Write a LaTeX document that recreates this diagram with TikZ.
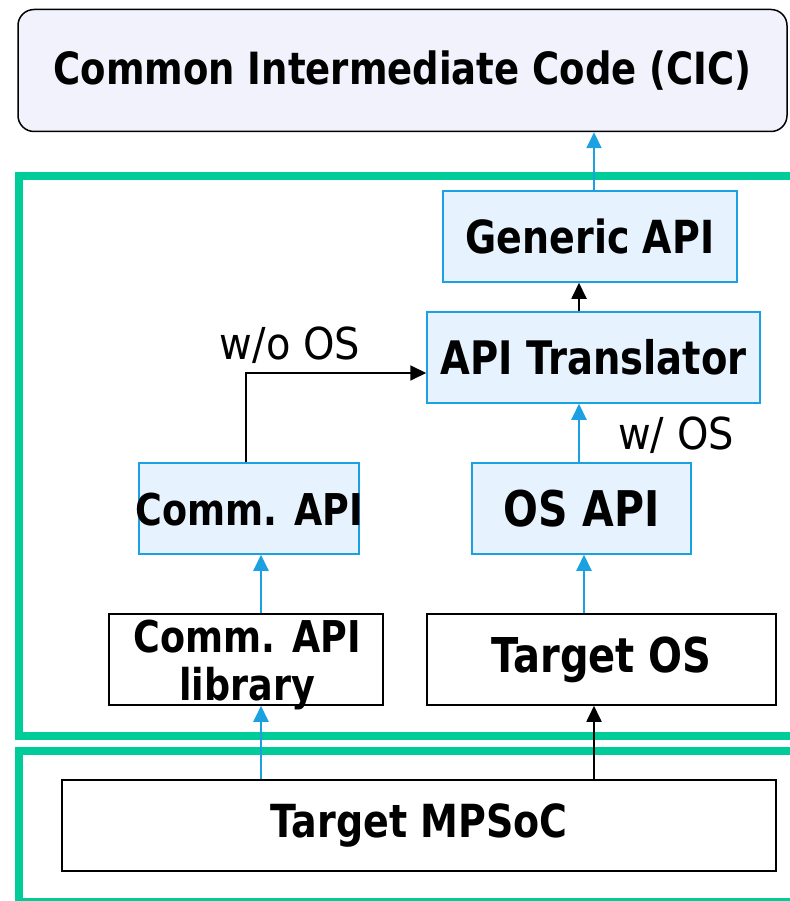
\documentclass[tikz,border=0pt]{standalone}
\usepackage{fontspec}
\usepackage{graphicx}
\setmainfont{DejaVu Sans}
\usetikzlibrary{arrows.meta,calc}
\definecolor{frameGreen}{HTML}{00CC99}
\definecolor{apiBlue}{HTML}{1BA1E2}
\definecolor{apiFill}{HTML}{E6F2FD}
\definecolor{cicFill}{HTML}{F2F2FD}
\newcommand{\bt}[2]{{\fontsize{#1}{#1}\selectfont\bfseries\scalebox{1}[1.2]{#2}}}
\tikzset{
  layer/.style={draw=frameGreen, line width=7.5pt},
  apibox/.style={draw=apiBlue, fill=apiFill, line width=1.5pt, inner sep=0pt, minimum height=91pt},
  plainbox/.style={draw=black, fill=white, line width=1.5pt, inner sep=0pt, minimum height=91pt},
  boxtext/.style={inner sep=0pt},
  bluearrow/.style={draw=apiBlue, line width=2pt, -{Triangle[length=16pt,width=15pt]}},
  blackarrow/.style={draw=black, line width=1.8pt, -{Triangle[length=16pt,width=15pt]}},
  lbl/.style={inner sep=0pt, font=\fontsize{40}{40}\selectfont}
}
\begin{document}
\begin{tikzpicture}[x=1pt,y=-1pt]
\useasboundingbox (0,0) rectangle (789,901);

% software and hardware layers
\draw[layer] (19,176) rectangle (830,736);
\draw[layer] (19,751) rectangle (830,902);

% top-level code
\node[draw=black, fill=cicFill, line width=1.5pt, rounded corners=16pt,
      minimum width=769pt, minimum height=122pt, inner sep=0pt] (cic) at (402.5,70.5)
      {\bt{37}{Common Intermediate Code (CIC)}};

% API stack
\node[apibox, minimum width=294pt] (gen) at (590,236.5) {\bt{38}{Generic API}};
\node[apibox, minimum width=333pt] (tr) at (593.5,357.5) {\bt{38.5}{API Translator}};
\node[apibox, minimum width=220pt] (comm) at (249,508.5) {};
\node[boxtext] (commtext) at (249,510) {\bt{36.5}{Comm. API}};
\node[apibox, minimum width=219pt] (osapi) at (581.5,508.5) {\bt{41}{OS API}};
\node[plainbox, minimum width=274pt] (lib) at (246,659.5) {};
\node[boxtext] (libtext1) at (247,637) {\bt{36.5}{Comm. API}};
\node[boxtext, anchor=base] (libtext2) at (247,700) {\bt{36.5}{library}};
\node[plainbox, minimum width=349pt] (tos) at (601.5,659.5) {\bt{40}{Target OS}};
\node[plainbox, minimum width=714pt] (mpsoc) at (419,825.5) {\bt{38}{Target MPSoC}};

% connector columns
\coordinate (xa) at (594,0);
\coordinate (xb) at (579,0);
\coordinate (xc) at (584,0);
\coordinate (xd) at (261,0);
\coordinate (xe) at (246,0);
\coordinate (yw) at (0,373);

\draw[bluearrow] (gen.north -| xa) -- (cic.south -| xa);
\draw[blackarrow] (tr.north -| xb) -- (gen.south -| xb);
\draw[bluearrow] (osapi.north -| xb) -- (tr.south -| xb);
\draw[blackarrow] (comm.north -| xe) |- (tr.west |- yw);
\draw[bluearrow] (tos.north -| xc) -- (osapi.south -| xc);
\draw[bluearrow] (lib.north -| xd) -- (comm.south -| xd);
\draw[bluearrow] (mpsoc.north -| xd) -- (lib.south -| xd);
\draw[blackarrow] (mpsoc.north -| xa) -- (tos.south -| xa);

% path labels
\node[lbl] (wo) at (290,345) {\scalebox{1}[1.1]{w/o OS}};
\node[lbl] (w) at (676,435) {\scalebox{1}[1.1]{w/ OS}};
\end{tikzpicture}
\end{document}
